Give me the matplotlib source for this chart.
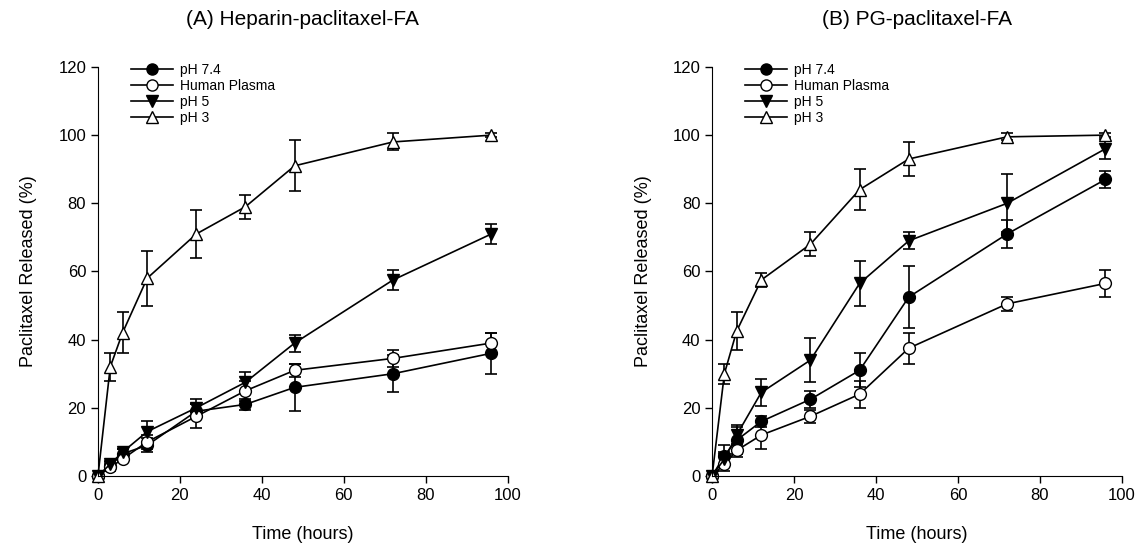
import numpy as np
import matplotlib.pyplot as plt
from matplotlib.lines import Line2D

plt.rcParams['font.family'] = ['Liberation Sans', 'DejaVu Sans']

# temps de prélèvement (heures)
time = [0, 3, 6, 12, 24, 36, 48, 72, 96]

# (A) Heparin-paclitaxel-FA
a_ph74 = [0, 3, 6.5, 9, 19, 21, 26, 30, 36]
a_ph74_err = [0, 1, 1.5, 2, 2, 1.5, 7, 5.5, 6]
a_plasma = [0, 2.5, 5, 10, 17.5, 25, 31, 34.5, 39]
a_plasma_err = [0, 1, 1, 2, 3.5, 3, 2, 2.5, 3]
a_ph5 = [0, 3.5, 7, 13, 20, 27.5, 39, 57.5, 71]
a_ph5_err = [0, 1, 1, 3, 2.5, 3, 2.5, 3, 3]
a_ph3 = [0, 32, 42, 58, 71, 79, 91, 98, 100]
a_ph3_err = [0, 4, 6, 8, 7, 3.5, 7.5, 2.5, 0.5]

# (B) PG-paclitaxel-FA
b_ph74 = [0, 6, 10.5, 16, 22.5, 31, 52.5, 71, 87]
b_ph74_err = [0, 3, 4, 1.5, 2.5, 5, 9, 4, 2.5]
b_plasma = [0, 3.5, 7.5, 12, 17.5, 24, 37.5, 50.5, 56.5]
b_plasma_err = [0, 2, 2, 4, 2, 4, 4.5, 2, 4]
b_ph5 = [0, 5, 12, 24.5, 34, 56.5, 69, 80, 96]
b_ph5_err = [0, 2, 3, 4, 6.5, 6.7, 2.5, 8.5, 3]
b_ph3 = [0, 30, 42.5, 57.5, 68, 84, 93, 99.5, 100]
b_ph3_err = [0, 3, 5.5, 2, 3.5, 6, 5, 1, 0.5]

labels = ['pH 7.4', 'Human Plasma', 'pH 5', 'pH 3']
markers = ['o', 'o', 'v', '^']
faces = ['black', 'white', 'black', 'white']

panels = [
    ('(A) Heparin-paclitaxel-FA',
     [a_ph74, a_plasma, a_ph5, a_ph3],
     [a_ph74_err, a_plasma_err, a_ph5_err, a_ph3_err]),
    ('(B) PG-paclitaxel-FA',
     [b_ph74, b_plasma, b_ph5, b_ph3],
     [b_ph74_err, b_plasma_err, b_ph5_err, b_ph3_err]),
]

fig = plt.figure(figsize=(11.43, 5.52), dpi=100)
lefts = [0.0857, 0.623]

for left, (title, series, errors) in zip(lefts, panels):
    ax = fig.add_axes([left, 0.1377, 0.3585, 0.741])
    handles = []
    for y, e, lab, m, fc in zip(series, errors, labels, markers, faces):
        ax.errorbar(time, y, yerr=e, color='black', marker=m,
                    markerfacecolor=fc, markeredgecolor='black', markersize=8.5,
                    linewidth=1.2, elinewidth=1.2, capsize=4.5, capthick=1.2,
                    clip_on=False)
        # poignée de légende sans barre d'erreur
        handles.append(Line2D([], [], color='black', marker=m, markerfacecolor=fc,
                              markeredgecolor='black', markersize=8,
                              linewidth=1.2, label=lab))
    ax.set_xlim(0, 100)
    ax.set_ylim(0, 120)
    ax.set_xticks(np.arange(0, 101, 20))
    ax.set_yticks(np.arange(0, 121, 20))
    ax.spines['top'].set_visible(False)
    ax.spines['right'].set_visible(False)
    ax.tick_params(direction='out', length=5, width=1, labelsize=12)
    ax.set_xlabel('Time (hours)', fontsize=13, labelpad=17)
    ax.set_ylabel('Paclitaxel Released (%)', fontsize=13, labelpad=15)
    ax.set_title(title, fontsize=15, pad=30)
    ax.legend(handles=handles, loc='upper left', bbox_to_anchor=(0.05, 1.04),
              frameon=False, fontsize=10, handlelength=3, labelspacing=0.15,
              handletextpad=0.5)

plt.savefig('out.png', dpi=100)
